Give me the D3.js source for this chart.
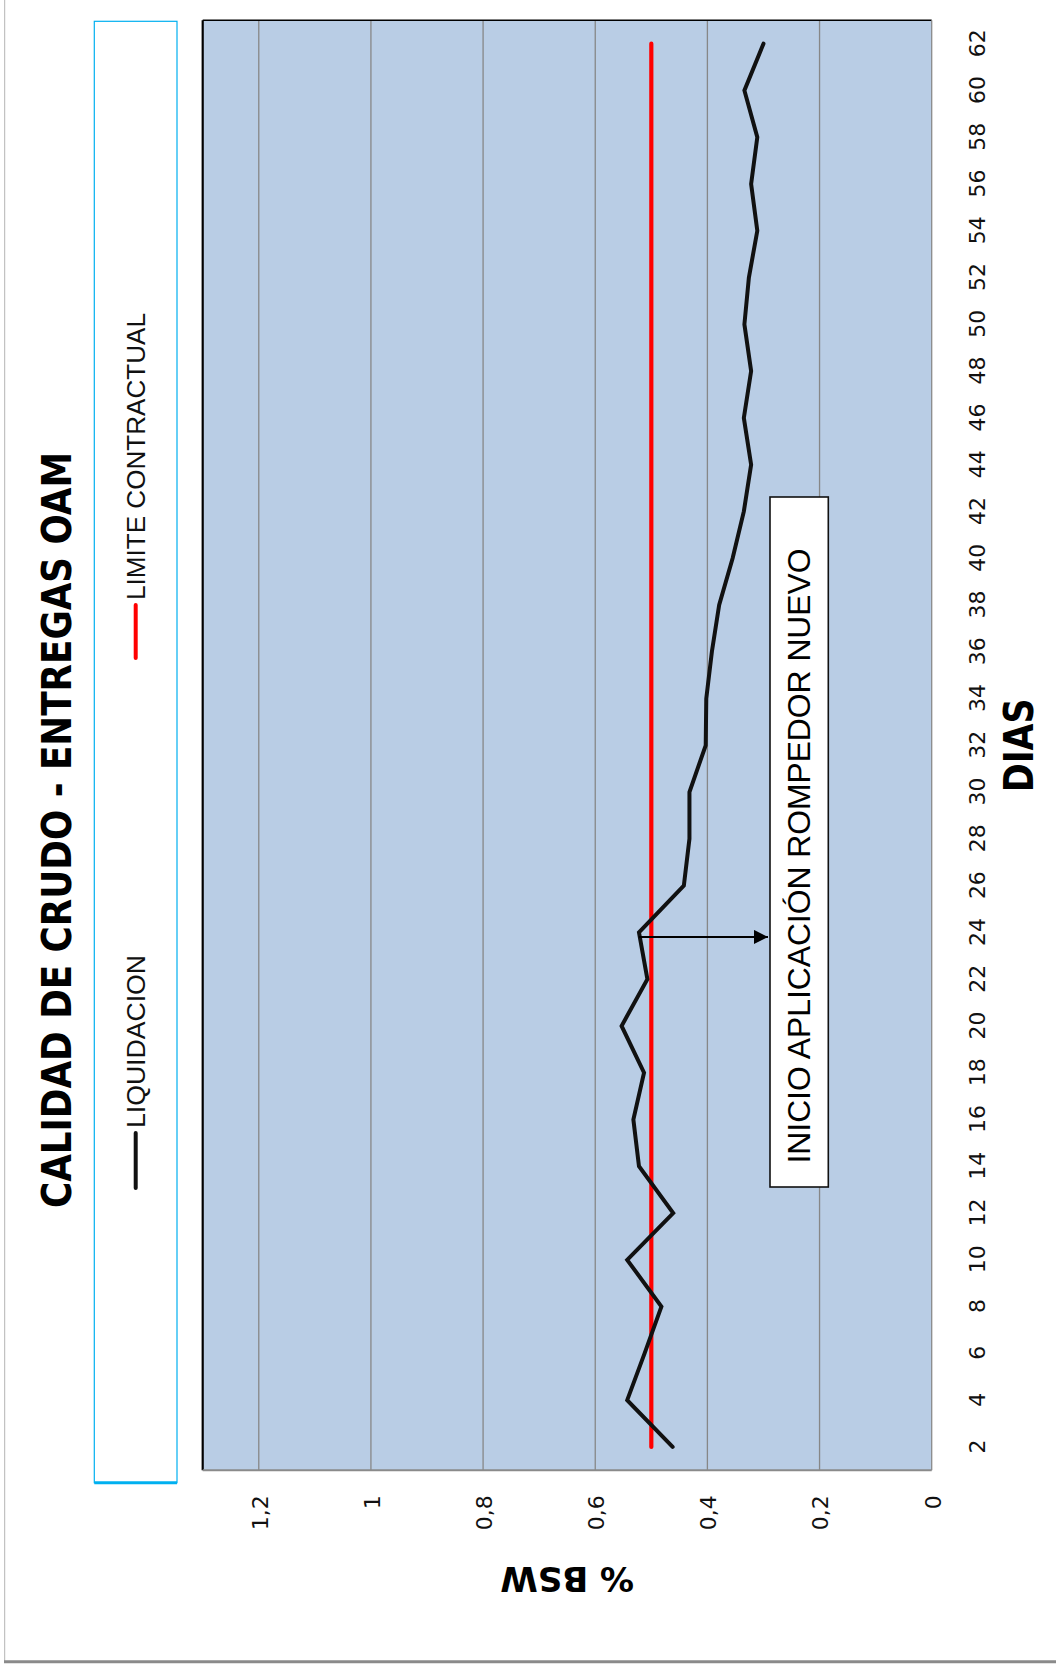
<!DOCTYPE html>
<html>
<head>
<meta charset="utf-8">
<script src="https://cdn.jsdelivr.net/npm/d3@7/dist/d3.min.js"></script>
<style>
  html, body { margin: 0; padding: 0; background: #ffffff; }
  svg { display: block; }
</style>
</head>
<body>
<script>
// Días de entrega y %BSW de la liquidación
const dias = [2, 4, 6, 8, 10, 12, 14, 16, 18, 20, 22, 24, 26, 28, 30, 32,
              34, 36, 38, 40, 42, 44, 46, 48, 50, 52, 54, 56, 58, 60, 62];
const liquidacion = [0.462, 0.543, 0.512, 0.482, 0.543, 0.461, 0.522, 0.532,
                     0.513, 0.553, 0.507, 0.522, 0.442, 0.432, 0.432, 0.403,
                     0.402, 0.392, 0.379, 0.355, 0.335, 0.322, 0.335, 0.322,
                     0.334, 0.326, 0.311, 0.322, 0.311, 0.334, 0.300];
// Límite contractual de %BSW
const limiteDias = [2, 62];
const limiteValores = [0.5, 0.5];
// Ejes
const diasTicks = [2, 4, 6, 8, 10, 12, 14, 16, 18, 20, 22, 24, 26, 28, 30,
                   32, 34, 36, 38, 40, 42, 44, 46, 48, 50, 52, 54, 56, 58, 60, 62];
const bswTicks = [0, 0.2, 0.4, 0.6, 0.8, 1, 1.2];
const diasDominio = [1, 63];
const bswDominio = [0, 1.3];
const inicioRompedor = { dia: 24, bsw: 0.522 };

const svg = d3.select("body").append("svg")
  .attr("width", 1056).attr("height", 1669);

svg.append("rect").attr("width", 1056).attr("height", 1669).attr("fill", "#ffffff");

// Marco del área del gráfico
svg.append("line").attr("x1", 4.7).attr("x2", 4.7).attr("y1", 0).attr("y2", 1661)
  .attr("stroke", "#b4b4b4").attr("stroke-width", 1);
svg.append("line").attr("x1", 4).attr("x2", 1056).attr("y1", 1661.7).attr("y2", 1661.7)
  .attr("stroke", "#8a8a8a").attr("stroke-width", 3);

// El gráfico se dibuja en orientación normal y se gira -90°
const W = 1450, H = 729;
const g = svg.append("g")
  .attr("transform", "translate(202.7,1470.3) rotate(-90)");

const x = d3.scaleLinear().domain(diasDominio).range([0, W]);
const y = d3.scaleLinear().domain(bswDominio).range([H, 0]);

const defs = svg.append("defs");
defs.append("marker")
  .attr("id", "flecha")
  .attr("viewBox", "0 0 10 10")
  .attr("refX", 10).attr("refY", 5)
  .attr("markerUnits", "userSpaceOnUse")
  .attr("markerWidth", 15).attr("markerHeight", 14)
  .attr("orient", "auto")
  .append("path").attr("d", "M0,0 L10,5 L0,10 Z").attr("fill", "#000");

// Fondo del área de trazado
g.append("rect").attr("x", 0).attr("y", 0).attr("width", W).attr("height", H)
  .attr("fill", "#b9cde5");

// Líneas de división
g.append("g").selectAll("line")
  .data(bswTicks.filter(d => d > 0))
  .join("line")
  .attr("x1", 0).attr("x2", W)
  .attr("y1", d => y(d)).attr("y2", d => y(d))
  .attr("stroke", "#878787").attr("stroke-width", 1.3);

// Bordes del área de trazado
g.append("line").attr("x1", 0).attr("x2", W).attr("y1", 0).attr("y2", 0)
  .attr("stroke", "#000").attr("stroke-width", 2.2);
g.append("line").attr("x1", W).attr("x2", W).attr("y1", 0).attr("y2", H)
  .attr("stroke", "#000").attr("stroke-width", 1.5);
g.append("line").attr("x1", 0).attr("x2", 0).attr("y1", 0).attr("y2", H)
  .attr("stroke", "#8a8a8a").attr("stroke-width", 2);
g.append("line").attr("x1", 0).attr("x2", W).attr("y1", H).attr("y2", H)
  .attr("stroke", "#8a8a8a").attr("stroke-width", 1.3);

// Eje de días
const ejeDias = g.append("g").attr("transform", `translate(0,${H})`)
  .call(d3.axisBottom(x).tickValues(diasTicks).tickSize(0).tickFormat(d3.format("d")));
ejeDias.select(".domain").remove();
ejeDias.selectAll("text")
  .attr("y", 53).attr("dy", null)
  .attr("font-family", "'DejaVu Sans', Verdana, sans-serif")
  .attr("font-size", 22).attr("fill", "#111");

// Eje de %BSW
const es = d3.formatLocale({ decimal: ",", thousands: ".", grouping: [3], currency: ["", ""] });
const ejeBsw = g.append("g")
  .call(d3.axisLeft(y).tickValues(bswTicks).tickSize(0).tickFormat(es.format("~g")));
ejeBsw.select(".domain").remove();
ejeBsw.selectAll("text")
  .attr("x", -25).attr("dy", "0.38em")
  .attr("font-family", "'DejaVu Sans', Verdana, sans-serif")
  .attr("font-size", 22).attr("fill", "#111");

// Series
const linea = d3.line().x(d => x(d[0])).y(d => y(d[1]));

g.append("path")
  .datum(d3.zip(limiteDias, limiteValores))
  .attr("d", linea)
  .attr("fill", "none").attr("stroke", "#ff0000")
  .attr("stroke-width", 4.2).attr("stroke-linecap", "round");

g.append("path")
  .datum(d3.zip(dias, liquidacion))
  .attr("d", linea)
  .attr("fill", "none").attr("stroke", "#111111")
  .attr("stroke-width", 4).attr("stroke-linejoin", "miter").attr("stroke-linecap", "round");

// Anotación: inicio de aplicación del rompedor nuevo
const caja = { x: 283.3, y: 567.3, w: 690, h: 58.3 };
g.append("line")
  .attr("x1", x(inicioRompedor.dia) - 4.5).attr("x2", x(inicioRompedor.dia) - 4.5)
  .attr("y1", y(inicioRompedor.bsw)).attr("y2", caja.y - 2)
  .attr("stroke", "#000").attr("stroke-width", 2)
  .attr("marker-end", "url(#flecha)");
g.append("rect")
  .attr("x", caja.x).attr("y", caja.y).attr("width", caja.w).attr("height", caja.h)
  .attr("fill", "#ffffff").attr("stroke", "#111").attr("stroke-width", 1.6);
g.append("text")
  .attr("x", caja.x + 23.5).attr("y", caja.y + 40)
  .attr("font-family", "'Liberation Sans', Arial, sans-serif")
  .attr("font-size", 31).attr("fill", "#000")
  .attr("textLength", 615).attr("lengthAdjust", "spacingAndGlyphs")
  .text("INICIO APLICACIÓN ROMPEDOR NUEVO");

// Leyenda
g.append("rect")
  .attr("x", -12.4).attr("y", -108.4).attr("width", 1461.4).attr("height", 82.7)
  .attr("fill", "#ffffff").attr("stroke", "#00b0f0").attr("stroke-width", 1.2);
g.append("line").attr("x1", -12.4).attr("x2", -12.4).attr("y1", -108.4).attr("y2", -25.7)
  .attr("stroke", "#00b0f0").attr("stroke-width", 3);

const leyenda = [
  { nombre: "LIQUIDACION", color: "#111111", x0: 282.3, x1: 337.3, largo: 173 },
  { nombre: "LIMITE CONTRACTUAL", color: "#ff0000", x0: 812.3, x1: 865.3, largo: 287 }
];
const item = g.append("g").selectAll("g").data(leyenda).join("g");
item.append("line")
  .attr("x1", d => d.x0).attr("x2", d => d.x1).attr("y1", -67).attr("y2", -67)
  .attr("stroke", d => d.color).attr("stroke-width", 4).attr("stroke-linecap", "round");
item.append("text")
  .attr("x", d => d.x1 + 5).attr("y", -57.7)
  .attr("font-family", "'Liberation Sans', Arial, sans-serif")
  .attr("font-size", 26).attr("fill", "#111")
  .attr("textLength", d => d.largo).attr("lengthAdjust", "spacingAndGlyphs")
  .text(d => d.nombre);

// Títulos
g.append("text")
  .attr("x", 640.3).attr("y", -132)
  .attr("text-anchor", "middle")
  .attr("font-family", "'DejaVu Sans', Verdana, sans-serif")
  .attr("font-weight", "bold").attr("font-size", 41).attr("fill", "#000")
  .attr("textLength", 756).attr("lengthAdjust", "spacingAndGlyphs")
  .text("CALIDAD DE CRUDO - ENTREGAS OAM");

g.append("text")
  .attr("x", W / 2).attr("y", 830.6)
  .attr("text-anchor", "middle")
  .attr("font-family", "'DejaVu Sans', Verdana, sans-serif")
  .attr("font-weight", "bold").attr("font-size", 41).attr("fill", "#000")
  .attr("textLength", 94).attr("lengthAdjust", "spacingAndGlyphs")
  .text("DIAS");

g.append("text")
  .attr("transform", `translate(-96.4,${H / 2}) rotate(-90)`)
  .attr("text-anchor", "middle")
  .attr("font-family", "'DejaVu Sans', Verdana, sans-serif")
  .attr("font-weight", "bold").attr("font-size", 34).attr("fill", "#000")
  .text("% BSW");
</script>
</body>
</html>
